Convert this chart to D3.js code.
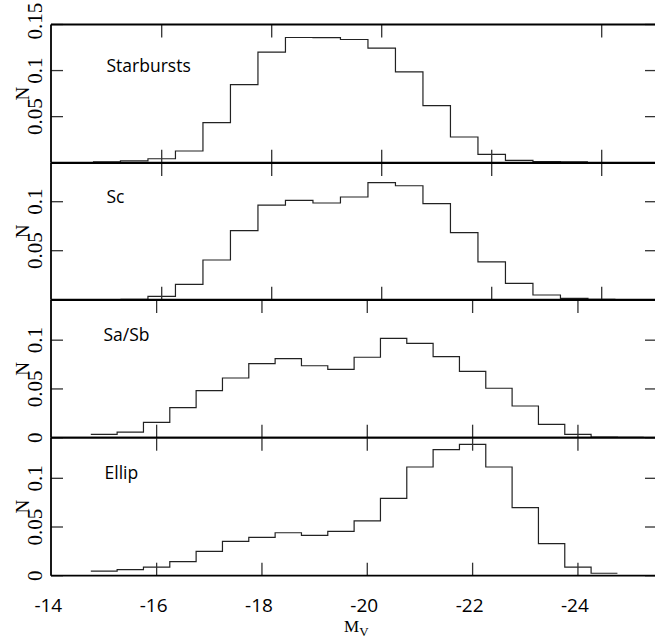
<!DOCTYPE html>
<html>
<head>
<meta charset="utf-8">
<script src="https://cdn.jsdelivr.net/npm/d3@7"></script>
<style>
  body { margin: 0; background: #fff; }
  svg { display: block; }
</style>
</head>
<body>
<div id="chart"></div>
<script>
// histogram bins are 0.5 mag wide, values are fractions N
var binWidth = 0.5;
var panelNames = ["Starbursts", "Sc", "Sa/Sb", "Ellip"];
var binStarts = [-14.75, -15.25, -14.75, -14.75];

var starburstsN = [0.001, 0.002, 0.0043, 0.0127, 0.0435, 0.0848, 0.12, 0.1359, 0.1357, 0.1337,
    0.1243, 0.0986, 0.062, 0.0279, 0.0091, 0.0026, 0.0011, 0.0008];
var scN = [0.0004, 0.0034, 0.0157, 0.0405, 0.0704, 0.0966, 0.1014, 0.0987, 0.1048, 0.1194,
    0.1163, 0.098, 0.0684, 0.0385, 0.0167, 0.0048, 0.0014, 0.0004];
var saSbN = [0.0035, 0.0058, 0.0158, 0.0308, 0.0482, 0.0612, 0.0759, 0.081, 0.0738, 0.0701,
    0.0825, 0.1019, 0.0968, 0.0831, 0.0681, 0.0507, 0.0325, 0.0137, 0.0035, 0.0007, 0.0003];
var ellipN = [0.0048, 0.0062, 0.0089, 0.0144, 0.025, 0.0353, 0.0394, 0.0441, 0.0414, 0.0456,
    0.0562, 0.0795, 0.1116, 0.1294, 0.1349, 0.1116, 0.0698, 0.0329, 0.0089, 0.0025];

var magTicks = [-14, -16, -18, -20, -22, -24];
var yTickLabels = [["0.05", "0.1", "0.15"], ["0.05", "0.1"], ["0", "0.05", "0.1"], ["0", "0.05", "0.1"]];
var seriesN = [starburstsN, scN, saSbN, ellipN];

var width = 655, height = 640;
var left = 51, right = 656;
// each panel came from its own plot, so scales differ a little
var layout = [
    {top: 24.5, bottom: 162.7, ymax: 0.15, xr: [51.7, 656.7]},
    {top: 163, bottom: 299.7, ymax: 0.1395, xr: [51.7, 656.7]},
    {top: 300, bottom: 437.7, ymax: 0.1412, xr: [51.3, 630.6]},
    {top: 437.7, bottom: 575.7, ymax: 0.1417, xr: [51.3, 630.6]}
];

var svg = d3.select("#chart").append("svg")
    .attr("width", width)
    .attr("height", height);

var stepLine = d3.line().curve(d3.curveStepAfter);

layout.forEach(function (p, i) {
    var xScale = d3.scaleLinear().domain([-14, -25]).range(p.xr);
    var yScale = d3.scaleLinear().domain([0, p.ymax]).range([p.bottom, p.top]);
    var g = svg.append("g").attr("class", "panel");

    // histogram
    var vals = seriesN[i];
    var pts = vals.map(function (v, k) { return [xScale(binStarts[i] - k * binWidth), yScale(v)]; });
    pts.push([xScale(binStarts[i] - vals.length * binWidth), yScale(vals[vals.length - 1])]);
    g.append("path")
        .attr("d", stepLine(pts))
        .attr("fill", "none")
        .attr("stroke", "#222")
        .attr("stroke-width", 1.2);

    // x ticks, inward top and bottom
    magTicks.slice(1).forEach(function (t) {
        var x = xScale(t);
        if (!(i === 0 && t === -22)) {
            g.append("line").attr("x1", x).attr("x2", x)
                .attr("y1", p.top).attr("y2", p.top + 13)
                .attr("stroke", "#333").attr("stroke-width", 1.3);
        }
        g.append("line").attr("x1", x).attr("x2", x)
            .attr("y1", p.bottom).attr("y2", p.bottom - 13)
            .attr("stroke", "#333").attr("stroke-width", 1.3);
    });

    // y ticks, inward left and right
    yTickLabels[i].forEach(function (lab) {
        var y = yScale(+lab);
        g.append("line").attr("x1", left).attr("x2", left + 12)
            .attr("y1", y).attr("y2", y)
            .attr("stroke", "#333").attr("stroke-width", 1.3);
        g.append("line").attr("x1", 645).attr("x2", right)
            .attr("y1", y).attr("y2", y)
            .attr("stroke", "#333").attr("stroke-width", 1.3);
        var ty = lab === "0.15" ? 21 : y;
        g.append("text")
            .attr("transform", "translate(42," + ty + ") rotate(-90)")
            .attr("text-anchor", "middle")
            .style("font-family", "'Liberation Serif', serif")
            .style("font-size", "21px")
            .text(lab);
    });

    // frame
    g.append("line").attr("x1", left).attr("x2", right).attr("y1", p.top).attr("y2", p.top)
        .attr("stroke", "#000").attr("stroke-width", 1.8);
    g.append("line").attr("x1", left).attr("x2", right).attr("y1", p.bottom).attr("y2", p.bottom)
        .attr("stroke", "#000").attr("stroke-width", 1.8);
    g.append("line").attr("x1", left).attr("x2", left).attr("y1", p.top).attr("y2", p.bottom)
        .attr("stroke", "#000").attr("stroke-width", 1.8);

    // axis title N
    g.append("text")
        .attr("transform", "translate(28.5," + ((p.top + p.bottom) / 2) + ") rotate(-90)")
        .attr("text-anchor", "middle")
        .style("font-family", "'Liberation Serif', serif")
        .style("font-size", "19px")
        .text("N");

    // panel name
    g.append("text")
        .attr("x", i === 2 ? 103.5 : (i === 3 ? 104.5 : 106.5))
        .attr("y", yScale(0.1) + 1)
        .style("font-family", "'Open Sans', sans-serif")
        .style("font-size", "17.5px")
        .text(panelNames[i]);

    // bottom tick labels
    if (i === layout.length - 1) {
        magTicks.forEach(function (t) {
            g.append("text")
                .attr("x", xScale(t) - 3)
                .attr("y", 612)
                .attr("text-anchor", "middle")
                .style("font-family", "'Open Sans', sans-serif")
                .style("font-size", "19px")
                .text(t);
        });
        var lab = g.append("text")
            .attr("x", 344)
            .attr("y", 632)
            .style("font-family", "'Liberation Serif', serif")
            .style("font-size", "17px");
        lab.append("tspan").text("M");
        lab.append("tspan").attr("dy", 4).style("font-size", "13px").text("V");
    }
});
</script>
</body>
</html>
